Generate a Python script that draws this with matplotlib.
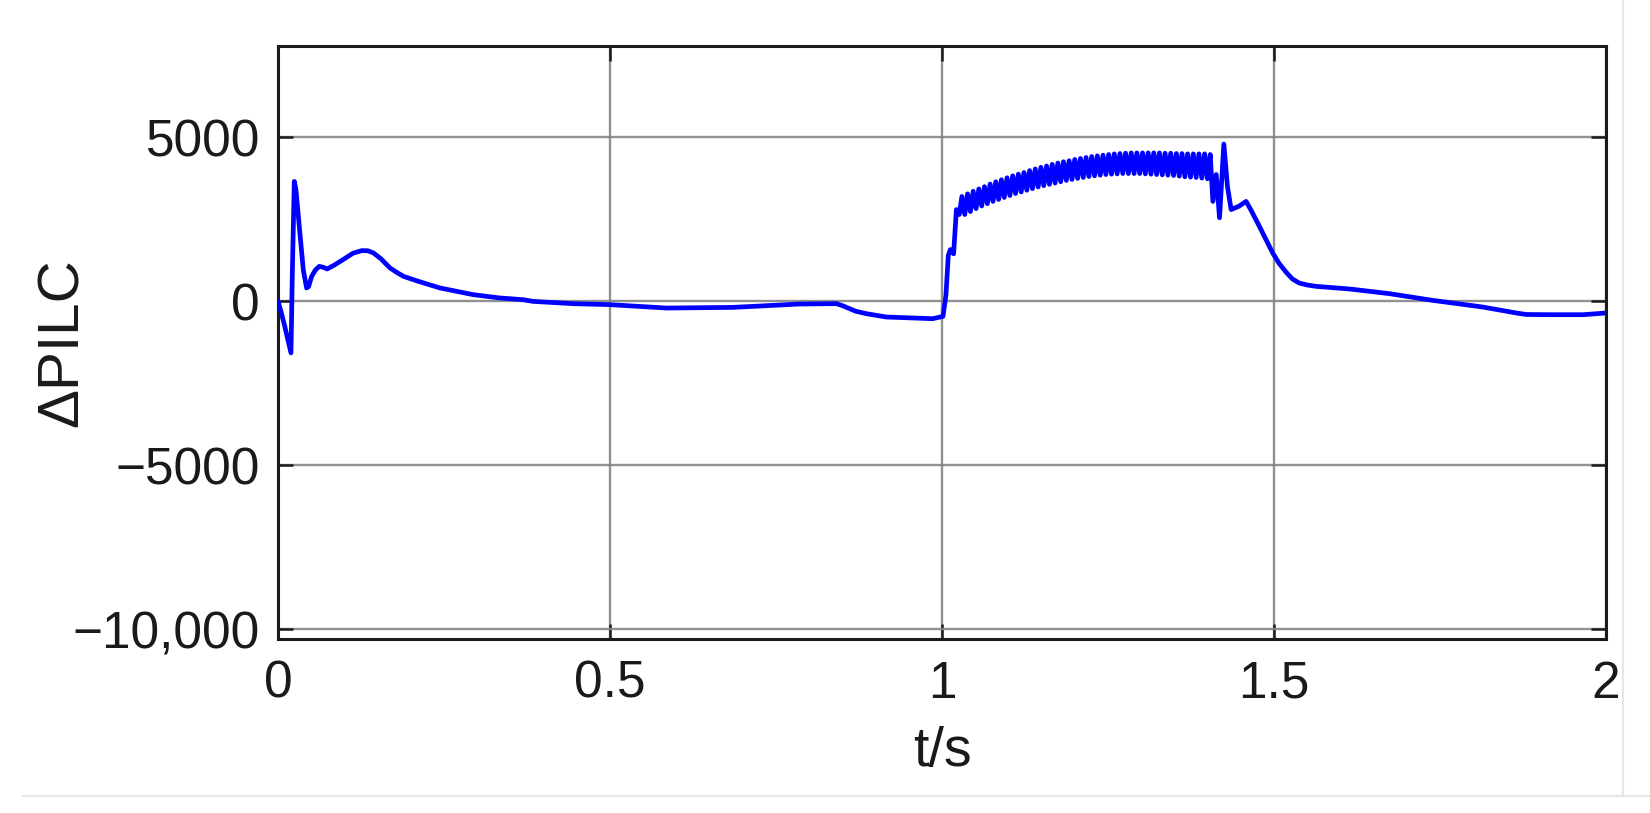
import matplotlib
matplotlib.use('Agg')
import matplotlib.pyplot as plt
from matplotlib.lines import Line2D

plt.rcParams['font.family'] = ['Liberation Sans', 'DejaVu Sans']

# first second: start-up transient, then a slow drift around zero
T_START = [0.000, 0.005, 0.010, 0.0195, 0.0215, 0.0245, 0.027, 0.0306, 0.038,
           0.043, 0.046, 0.0507, 0.056, 0.062, 0.068, 0.074, 0.085, 0.100,
           0.113, 0.126, 0.135, 0.1435, 0.155, 0.1686, 0.180, 0.189, 0.210,
           0.244, 0.294, 0.334, 0.369, 0.384, 0.4445, 0.500, 0.585, 0.685,
           0.786, 0.841, 0.850, 0.870, 0.886, 0.916, 0.986, 1.0015, 1.006,
           1.0095, 1.0126, 1.0175, 1.0195, 1.0217, 1.026]
V_START = [0, -350, -750, -1570, 800, 3660, 3400, 2595, 968,
           409, 450, 763, 950, 1068, 1040, 989, 1110, 1300,
           1470, 1548, 1545, 1480, 1300, 1019, 870, 763, 620,
           409, 205, 104, 52, 0, -70, -100, -203, -183,
           -80, -70, -130, -300, -375, -477, -528, -458, 200,
           1400, 1580, 1450, 2100, 2800, 2650]

# oscillating part after the step at t = 1 s (peaks and troughs)
T_PEAKS = [1.0300, 1.0385, 1.0470, 1.0555, 1.0640, 1.0725, 1.0810, 1.0895,
           1.0980, 1.1065, 1.1150, 1.1235, 1.1320, 1.1405, 1.1490, 1.1575,
           1.1660, 1.1745, 1.1830, 1.1915, 1.2000, 1.2085, 1.2170, 1.2255,
           1.2340, 1.2425, 1.2510, 1.2595, 1.2680, 1.2765, 1.2850, 1.2935,
           1.3020, 1.3105, 1.3190, 1.3275, 1.3360, 1.3445, 1.3530, 1.3615,
           1.3700, 1.3785, 1.3870, 1.3955]
V_PEAKS = [3200, 3280, 3360, 3430, 3500, 3580, 3650, 3710,
           3770, 3830, 3880, 3930, 3990, 4040, 4090, 4130,
           4180, 4220, 4260, 4290, 4330, 4360, 4390, 4420,
           4440, 4460, 4480, 4500, 4510, 4520, 4530, 4530,
           4530, 4530, 4530, 4530, 4520, 4520, 4510, 4510,
           4500, 4500, 4500, 4500]
T_TROUGHS = [1.0343, 1.0428, 1.0513, 1.0598, 1.0683, 1.0768, 1.0853, 1.0938,
             1.1023, 1.1108, 1.1193, 1.1278, 1.1363, 1.1448, 1.1533, 1.1618,
             1.1703, 1.1788, 1.1873, 1.1958, 1.2043, 1.2128, 1.2213, 1.2298,
             1.2383, 1.2468, 1.2553, 1.2638, 1.2723, 1.2808, 1.2893, 1.2978,
             1.3063, 1.3148, 1.3233, 1.3318, 1.3403, 1.3488, 1.3573, 1.3658,
             1.3743, 1.3828, 1.3913, 1.3998]
V_TROUGHS = [2650, 2740, 2830, 2910, 2980, 3050, 3110, 3170,
             3230, 3290, 3340, 3390, 3440, 3490, 3530, 3570,
             3610, 3650, 3690, 3720, 3750, 3780, 3810, 3830,
             3850, 3870, 3880, 3890, 3900, 3900, 3900, 3900,
             3890, 3880, 3870, 3860, 3850, 3840, 3820, 3800,
             3790, 3780, 3760, 3740]

# end of the disturbance and decay back to zero
T_END = [1.4040, 1.4080, 1.4130, 1.4180, 1.4245, 1.4300, 1.4355, 1.4470,
         1.4580, 1.4650, 1.4780, 1.4980, 1.5080, 1.5200, 1.5280, 1.5380,
         1.5500, 1.5636, 1.614, 1.674, 1.739, 1.814, 1.865, 1.880,
         1.915, 1.966, 2.000]
V_END = [4480, 3050, 3870, 2550, 4800, 3500, 2800, 2900,
         3050, 2800, 2290, 1480, 1150, 850, 680, 560,
         500, 458, 378, 235, 31, -171, -354, -400,
         -406, -406, -354]

Y_TICKS = [-10000, -5000, 0, 5000]
Y_TICK_LABELS = ['\u221210,000', '\u22125000', '0', '5000']
X_TICKS = [0, 0.5, 1, 1.5, 2]
X_TICK_LABELS = ['0', '0.5', '1', '1.5', '2']

# put peaks and troughs in time order
t_osc, v_osc = [], []
for tp, vp, tt, vt in zip(T_PEAKS, V_PEAKS, T_TROUGHS, V_TROUGHS):
    t_osc += [tp, tt]
    v_osc += [vp, vt]

t_all = T_START + t_osc + T_END
v_all = V_START + v_osc + V_END

fig = plt.figure(figsize=(16.5, 8.13), dpi=100)
ax = fig.add_axes([0.1685, 0.214, 0.8048, 0.7298])

ax.plot(t_all, v_all, color='#0000ff', linewidth=3.4, zorder=3,
        solid_joinstyle='round')

ax.set_xlim(0, 2)
ax.set_ylim(-10300, 7800)
ax.set_xticks(X_TICKS)
ax.set_xticklabels(X_TICK_LABELS)
ax.set_yticks(Y_TICKS)
ax.set_yticklabels(Y_TICK_LABELS)

ax.grid(True, color='#858585', linewidth=1.7, alpha=0.9)
ax.set_axisbelow(True)
ax.tick_params(direction='in', length=11, width=1.8, top=True, right=True,
               labelsize=37, colors='#1a1a1a')
ax.tick_params(axis='x', pad=15)
ax.tick_params(axis='y', pad=13)
for spine in ax.spines.values():
    spine.set_linewidth(2.2)
    spine.set_color('#1a1a1a')

ax.set_xlabel('t/s', fontsize=40, color='#1a1a1a', labelpad=12)
ax.set_ylabel('\u0394PILC', fontsize=42, color='#1a1a1a')
ax.yaxis.set_label_coords(-0.1416, 0.5)

# faint frame lines of the original picture
fig.add_artist(Line2D([23 / 1650, 1], [1 - 796 / 813] * 2, color='#e6e6e6', linewidth=1.5))
fig.add_artist(Line2D([1623 / 1650] * 2, [1 - 796 / 813, 1], color='#e6e6e6', linewidth=1.5))

fig.savefig('out.png', dpi=100, facecolor='white')
